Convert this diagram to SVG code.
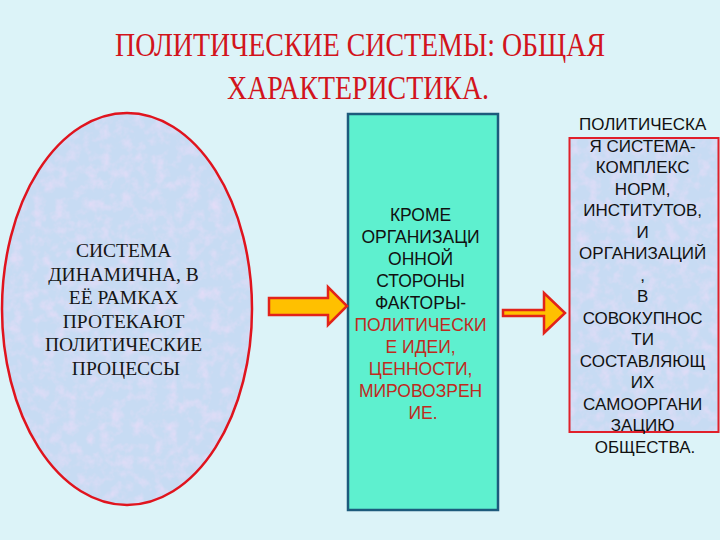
<svg xmlns="http://www.w3.org/2000/svg" width="720" height="540" viewBox="0 0 720 540">
  <defs>
    <filter id="tex" x="0" y="0" width="100%" height="100%">
      <feTurbulence type="fractalNoise" baseFrequency="0.09" numOctaves="3" seed="4" result="n"/>
      <feColorMatrix in="n" type="matrix" values="0 0 0 0 0.85  0 0 0 0 0.72  0 0 0 0 0.95  1.4 0 0 0 -0.6" result="pink"/>
      <feComposite in="pink" in2="SourceGraphic" operator="in" result="pinkIn"/>
      <feMerge>
        <feMergeNode in="SourceGraphic"/>
        <feMergeNode in="pinkIn"/>
      </feMerge>
    </filter>
  </defs>
  <style>
    .title { font-family: "Liberation Serif", "Times New Roman", serif; font-size: 33px; fill: #D2141C; }
    .serif { font-family: "Liberation Serif", "Times New Roman", serif; font-size: 19.5px; fill: #161616; text-anchor: middle; }
    .sans { font-family: "Liberation Sans", Arial, sans-serif; font-size: 17.5px; fill: #111; text-anchor: middle; }
    .sansR { font-family: "Liberation Sans", Arial, sans-serif; font-size: 17px; fill: #111; text-anchor: middle; }
    .red { fill: #C02A1E; }
    .arrow { fill: #FFC000; stroke: #E2231A; stroke-width: 2.5; stroke-linejoin: miter; }
  </style>

  <rect x="0" y="0" width="720" height="540" fill="#DCF3F8"/>

  <g id="title">
    <text class="title" x="115" y="56" textLength="490" lengthAdjust="spacingAndGlyphs">ПОЛИТИЧЕСКИЕ СИСТЕМЫ: ОБЩАЯ</text>
    <text class="title" x="227" y="99" textLength="262" lengthAdjust="spacingAndGlyphs">ХАРАКТЕРИСТИКА.</text>
  </g>

  <g id="node-ellipse">
    <ellipse cx="127" cy="309" rx="125" ry="196" fill="#C7DBF3" filter="url(#tex)"/>
    <ellipse cx="127" cy="309" rx="125" ry="196" fill="none" stroke="#E0141E" stroke-width="2.5"/>
    <text class="serif">
      <tspan x="126" y="257">СИСТЕМА</tspan>
      <tspan x="126" y="280.5">ДИНАМИЧНА, В</tspan>
      <tspan x="126" y="304">ЕЁ РАМКАХ</tspan>
      <tspan x="126" y="327.5">ПРОТЕКАЮТ</tspan>
      <tspan x="126" y="351">ПОЛИТИЧЕСКИЕ</tspan>
      <tspan x="126" y="374.5">ПРОЦЕССЫ</tspan>
    </text>
  </g>

  <g id="node-middle">
    <rect x="348" y="114" width="150" height="396" fill="#5EF0CF" stroke="#1D5A7C" stroke-width="2.5"/>
    <text class="sans">
      <tspan x="423" y="221">КРОМЕ</tspan>
      <tspan x="423" y="243">ОРГАНИЗАЦИ</tspan>
      <tspan x="423" y="265">ОННОЙ</tspan>
      <tspan x="423" y="287">СТОРОНЫ</tspan>
      <tspan x="423" y="308.5">ФАКТОРЫ-</tspan>
      <tspan class="red" x="423" y="330.5">ПОЛИТИЧЕСКИ</tspan>
      <tspan class="red" x="423" y="352.5">Е  ИДЕИ,</tspan>
      <tspan class="red" x="423" y="374.5">ЦЕННОСТИ,</tspan>
      <tspan class="red" x="423" y="396.5">МИРОВОЗРЕН</tspan>
      <tspan class="red" x="423" y="418.5">ИЕ.</tspan>
    </text>
  </g>

  <g id="node-right">
    <rect x="569.5" y="138" width="149" height="294" fill="#C7DBF3" filter="url(#tex)"/>
    <rect x="569.5" y="138" width="149" height="294" fill="none" stroke="#E0202A" stroke-width="2"/>
    <text class="sansR">
      <tspan x="645" y="130">ПОЛИТИЧЕСКА</tspan>
      <tspan x="645" y="151.5">Я  СИСТЕМА-</tspan>
      <tspan x="645" y="173">КОМПЛЕКС</tspan>
      <tspan x="645" y="194.5">НОРМ,</tspan>
      <tspan x="645" y="216">ИНСТИТУТОВ,</tspan>
      <tspan x="645" y="237.5">И</tspan>
      <tspan x="645" y="259">ОРГАНИЗАЦИЙ</tspan>
      <tspan x="645" y="280.5">,</tspan>
      <tspan x="645" y="302">В</tspan>
      <tspan x="645" y="323.5">СОВОКУПНОС</tspan>
      <tspan x="645" y="345">ТИ</tspan>
      <tspan x="645" y="366.5">СОСТАВЛЯЮЩ</tspan>
      <tspan x="645" y="388">ИХ</tspan>
      <tspan x="645" y="409.5">САМООРГАНИ</tspan>
      <tspan x="645" y="431">ЗАЦИЮ</tspan>
      <tspan x="645" y="452.5">ОБЩЕСТВА.</tspan>
    </text>
  </g>

  <g id="connectors">
    <polygon class="arrow" points="269,298 328,298 328,287 347,306 328,325 328,315 269,315"/>
    <polygon class="arrow" points="503,310 544,310 544,293 565,313 544,333 544,316 503,316"/>
  </g>
</svg>
